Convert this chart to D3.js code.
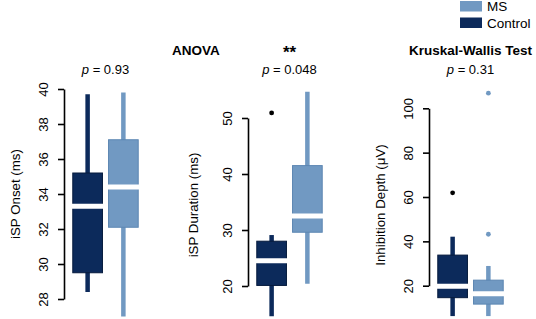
<!DOCTYPE html>
<html>
<head>
<meta charset="utf-8">
<script src="https://cdn.jsdelivr.net/npm/d3@7"></script>
<style>
  body { margin: 0; background: #fff; }
  text { font-family: "Liberation Sans", Arial, sans-serif; fill: #000; }
</style>
</head>
<body>
<svg id="chart" width="536" height="319"></svg>
<script>
// groups, drawn left to right in every panel
const groups = ["Control", "MS"];
const legendGroups = ["MS", "Control"];

// box stats per group: [whisker low, q1, median, q3, whisker high]
const onsetStats = [[28.4, 29.5, 33.3, 35.2, 39.7], [27.0, 32.1, 34.4, 37.1, 39.8]];
const durationStats = [[14.6, 20.1, 24.5, 28.0, 29.1], [20.4, 29.6, 32.5, 41.5, 54.7]];
const depthStats = [[6.3, 14.6, 19.8, 33.8, 42.1], [6.3, 11.7, 16.4, 22.5, 28.9]];

// outlier points per group
const onsetOutliers = [[], []];
const durationOutliers = [[50.9], []];
const depthOutliers = [[61.9], [106.8, 43.2]];

// tick labels
const onsetTicks = [28, 30, 32, 34, 36, 38, 40];
const durationTicks = [20, 30, 40, 50];
const depthTicks = [20, 40, 60, 80, 100];

const colors = { Control: "#0c2a5b", MS: "#7199c2" };
const strokes = { Control: "#061a3d", MS: "#5c86b2" };

const svg = d3.select("#chart");

const panels = [
  { stats: onsetStats, outliers: onsetOutliers, ticks: onsetTicks, label: "iSP Onset (ms)",
    axisX: 64, x0: 71, yRange: [299, 89], labelX: 15, labelY: 194, p: "0.93" },
  { stats: durationStats, outliers: durationOutliers, ticks: durationTicks, label: "iSP Duration (ms)",
    axisX: 248, x0: 255, yRange: [286, 118], labelX: 193, labelY: 205, p: "0.048" },
  { stats: depthStats, outliers: depthOutliers, ticks: depthTicks, label: "Inhibition Depth (\u03bcV)",
    axisX: 429, x0: 436, yRange: [285.7, 108.3], labelX: 380, labelY: 205, p: "0.31" }
];

panels.forEach((pn) => {
  const y = d3.scaleLinear()
    .domain([pn.ticks[0], pn.ticks[pn.ticks.length - 1]])
    .range(pn.yRange);
  const x = d3.scaleBand().domain(groups).range([pn.x0, pn.x0 + 69]).paddingInner(0.17).paddingOuter(0.05);
  pn.center = pn.x0 + 34.5;

  // y axis, R style: line only between first and last tick
  const axis = svg.append("g")
    .attr("transform", `translate(${pn.axisX},0)`)
    .call(d3.axisLeft(y).tickValues(pn.ticks).tickSize(6).tickSizeOuter(0).tickPadding(10));
  axis.select(".domain").attr("stroke-width", 1.6);
  axis.selectAll(".tick line").attr("stroke-width", 1.6);
  axis.selectAll(".tick text")
    .attr("font-size", 13)
    .attr("transform", "rotate(-90)")
    .attr("x", 0)
    .attr("y", -16)
    .attr("dy", 0)
    .attr("text-anchor", "middle")
    .attr("font-family", "Liberation Sans, Arial, sans-serif");

  svg.append("text")
    .attr("transform", `translate(${pn.labelX},${pn.labelY}) rotate(-90)`)
    .attr("text-anchor", "middle")
    .attr("dy", "0.35em")
    .attr("font-size", 13.3)
    .text(pn.label);

  groups.forEach((gname, i) => {
    const s = pn.stats[i];
    const cx = x(gname) + x.bandwidth() / 2;
    const g = svg.append("g");
    // whisker
    g.append("line")
      .attr("x1", cx).attr("x2", cx)
      .attr("y1", y(s[0])).attr("y2", y(s[4]))
      .attr("stroke", colors[gname]).attr("stroke-width", 4.5);
    // box
    g.append("rect")
      .attr("x", x(gname)).attr("width", x.bandwidth())
      .attr("y", y(s[3])).attr("height", y(s[1]) - y(s[3]))
      .attr("fill", colors[gname]).attr("stroke", strokes[gname]).attr("stroke-width", 1);
    // median shown as a white gap
    g.append("line")
      .attr("x1", x(gname) - 1).attr("x2", x(gname) + x.bandwidth() + 1)
      .attr("y1", y(s[2])).attr("y2", y(s[2]))
      .attr("stroke", "#fff").attr("stroke-width", 5);
    // outliers
    g.selectAll("circle")
      .data(pn.outliers[i])
      .join("circle")
      .attr("cx", cx).attr("cy", (d) => y(d)).attr("r", 2.4)
      .attr("fill", gname === "MS" ? colors.MS : "#000");
  });

  const pt = svg.append("text")
    .attr("x", pn.center).attr("y", 74)
    .attr("text-anchor", "middle")
    .attr("font-size", 13);
  pt.append("tspan").attr("font-style", "italic").text("p");
  pt.append("tspan").text(" = " + pn.p);
});

// test titles
svg.append("text").attr("x", 196).attr("y", 55).attr("text-anchor", "middle")
  .attr("font-size", 13.5).attr("font-weight", "bold").text("ANOVA");
svg.append("text").attr("x", panels[1].center).attr("y", 58).attr("text-anchor", "middle")
  .attr("font-size", 17).attr("font-weight", "bold").text("**");
svg.append("text").attr("x", panels[2].center).attr("y", 55).attr("text-anchor", "middle")
  .attr("font-size", 13.5).attr("font-weight", "bold").text("Kruskal-Wallis Test");

// legend
const legend = svg.append("g").attr("transform", "translate(460,1)");
legendGroups.forEach((gname, i) => {
  legend.append("rect")
    .attr("x", 0).attr("y", i * 16.5).attr("width", 22).attr("height", 10.5)
    .attr("fill", colors[gname]);
  legend.append("text")
    .attr("x", 27).attr("y", i * 16.5 + 5.5).attr("dy", "0.35em")
    .attr("font-size", 13.5).text(gname);
});
</script>
</body>
</html>
